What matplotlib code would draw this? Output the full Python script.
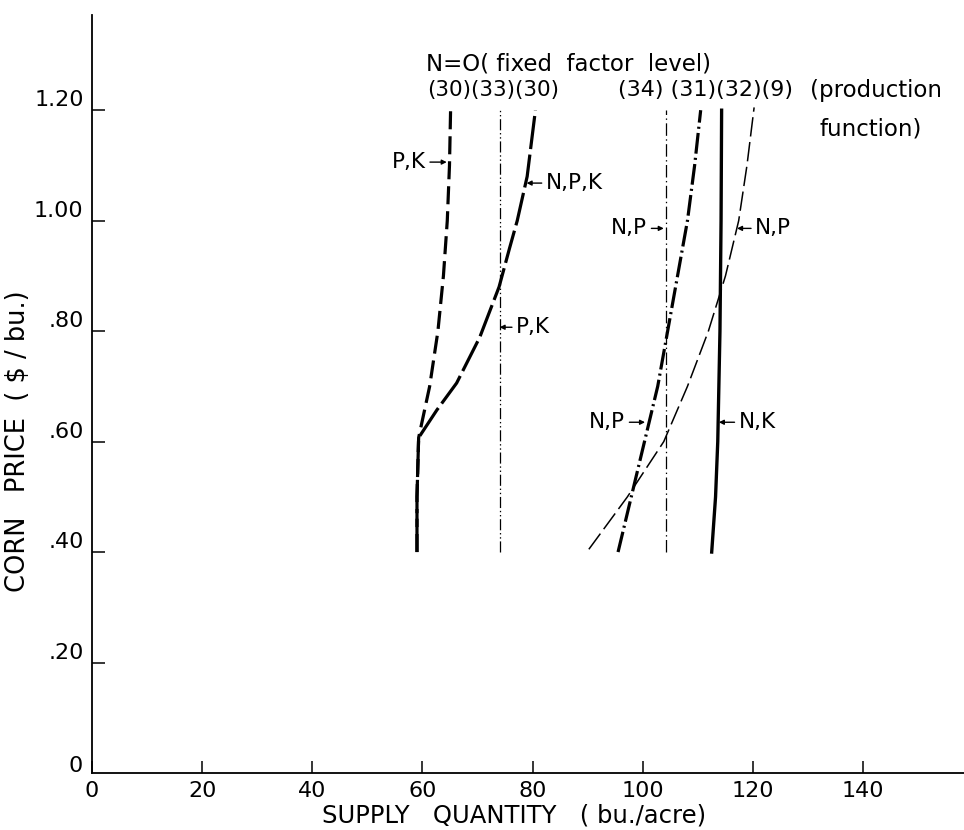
import matplotlib
matplotlib.use("Agg")
import matplotlib.pyplot as plt

plt.rcParams['font.family'] = ['DejaVu Sans']
plt.rcParams['lines.scale_dashes'] = False

# ---- data ----
# (30) P,K  - dashed
pk30_y = [0.40, 0.50, 0.607, 0.70, 0.80, 0.90, 1.00, 1.10, 1.20]
pk30_x = [59.0, 59.0, 59.3, 61.3, 62.8, 63.8, 64.5, 64.9, 65.1]
# (33) P,K - vertical dash-dot-dot
pk33_y = [0.40, 1.20]
pk33_x = [74.0, 74.0]
# (30) N,P,K - long dashes
npk30_y = [0.40, 0.50, 0.607, 0.657, 0.706, 0.789, 0.88, 0.95, 1.00, 1.08, 1.20]
npk30_x = [59.0, 59.0, 59.3, 62.6, 66.2, 70.4, 73.9, 75.8, 77.2, 79.0, 80.5]
# (34) N,P - vertical dash-dot
np34_y = [0.40, 1.20]
np34_x = [104.2, 104.2]
# (31) N,P - heavy dash-dot
np31_y = [0.40, 0.50, 0.60, 0.70, 0.80, 0.90, 1.00, 1.10, 1.20]
np31_x = [95.5, 97.9, 100.3, 102.7, 104.5, 106.3, 108.1, 109.4, 110.5]
# (32) N,K - solid
nk32_y = [0.40, 0.50, 0.60, 0.80, 1.00, 1.20]
nk32_x = [112.5, 113.2, 113.6, 114.0, 114.2, 114.3]
# (9) N,P - light dashed
np9_y = [0.405, 0.50, 0.60, 0.70, 0.80, 0.90, 1.00, 1.10, 1.205]
np9_x = [90.2, 97.2, 103.8, 108.1, 111.9, 115.0, 117.4, 118.9, 120.2]

x_ticks = [0, 20, 40, 60, 80, 100, 120, 140]
x_ticklabels = ['0', '20', '40', '60', '80', '100', '120', '140']
y_ticks = [0.20, 0.40, 0.60, 0.80, 1.00, 1.20]
y_ticklabels = ['.20', '.40', '.60', '.80', '1.00', '1.20']

header1 = 'N=O( fixed  factor  level)'
header2a = '(30)(33)(30)'
header2b = '(34) (31)(32)(9)'
header2c = '(production'
header3 = 'function)'

# curve annotations: (label, tip x, tip y, text x, side)
notes = [
    ('P,K', 64.4, 1.106, 60.6, 'left'),
    ('N,P,K', 78.9, 1.068, 82.4, 'right'),
    ('P,K', 74.0, 0.807, 77.0, 'right'),
    ('N,P', 103.8, 0.986, 100.8, 'left'),
    ('N,P', 117.1, 0.986, 120.4, 'right'),
    ('N,P', 100.4, 0.635, 96.8, 'left'),
    ('N,K', 113.8, 0.635, 117.4, 'right'),
]

fig = plt.figure(figsize=(9.64, 8.30), dpi=100)
ax = fig.add_axes([0.0954, 0.0687, 0.9046, 0.913])
ax.set_xlim(0, 158.3)
ax.set_ylim(0, 1.372)

k = 'black'
ax.plot(pk30_x, pk30_y, color=k, lw=2.3, dashes=(13, 5))
ax.plot(pk33_x, pk33_y, color=k, lw=0.9, dashes=(8, 2, 1, 2, 1, 2))
ax.plot(npk30_x, npk30_y, color=k, lw=2.3, dashes=(24, 4))
ax.plot(np34_x, np34_y, color=k, lw=0.9, dashes=(9, 2.5, 1, 2.5))
ax.plot(np31_x, np31_y, color=k, lw=2.3, dashes=(15, 3, 1.5, 3))
ax.plot(nk32_x, nk32_y, color=k, lw=2.4)
ax.plot(np9_x, np9_y, color=k, lw=1.1, dashes=(14, 4))

fs = 15.5
for lab, tx, ty, xt, side in notes:
    ha = 'right' if side == 'left' else 'left'
    ax.annotate(lab, xy=(tx, ty), xytext=(xt, ty), ha=ha, va='center',
                fontsize=fs,
                arrowprops=dict(arrowstyle='-|>', lw=1.0, color=k,
                                mutation_scale=7, shrinkA=1, shrinkB=0))

ax.text(60.6, 1.283, header1, fontsize=16.5, ha='left', va='center')
ax.text(60.8, 1.236, header2a, fontsize=fs, ha='left', va='center')
ax.text(95.5, 1.236, header2b, fontsize=16, ha='left', va='center')
ax.text(130.3, 1.236, header2c, fontsize=16.5, ha='left', va='center')
ax.text(132.1, 1.166, header3, fontsize=16.5, ha='left', va='center')

for s in ['top', 'right']:
    ax.spines[s].set_visible(False)
for s in ['left', 'bottom']:
    ax.spines[s].set_linewidth(1.3)

ax.set_xticks(x_ticks)
ax.set_xticklabels(x_ticklabels, fontsize=16)
ax.set_yticks(y_ticks)
ax.set_yticklabels(y_ticklabels, fontsize=16)
for lbl in ax.get_yticklabels():
    lbl.set_va('bottom')
ax.tick_params(axis='x', direction='in', length=9, width=1.1, pad=6)
ax.tick_params(axis='y', direction='in', length=9, width=1.1, pad=6)
ax.xaxis.set_minor_locator(matplotlib.ticker.NullLocator())

# "0" at origin of the y axis
ax.text(-1.6, 0.012, '0', fontsize=16, ha='right', va='center')

fig.text(0.533, 0.018, 'SUPPLY   QUANTITY   ( bu./acre)', fontsize=17.5,
         ha='center', va='center')
fig.text(0.019, 0.469, 'CORN   PRICE  ( $ / bu.)', fontsize=18.5, rotation=90,
         ha='center', va='center')

fig.savefig('out.png', dpi=100)
